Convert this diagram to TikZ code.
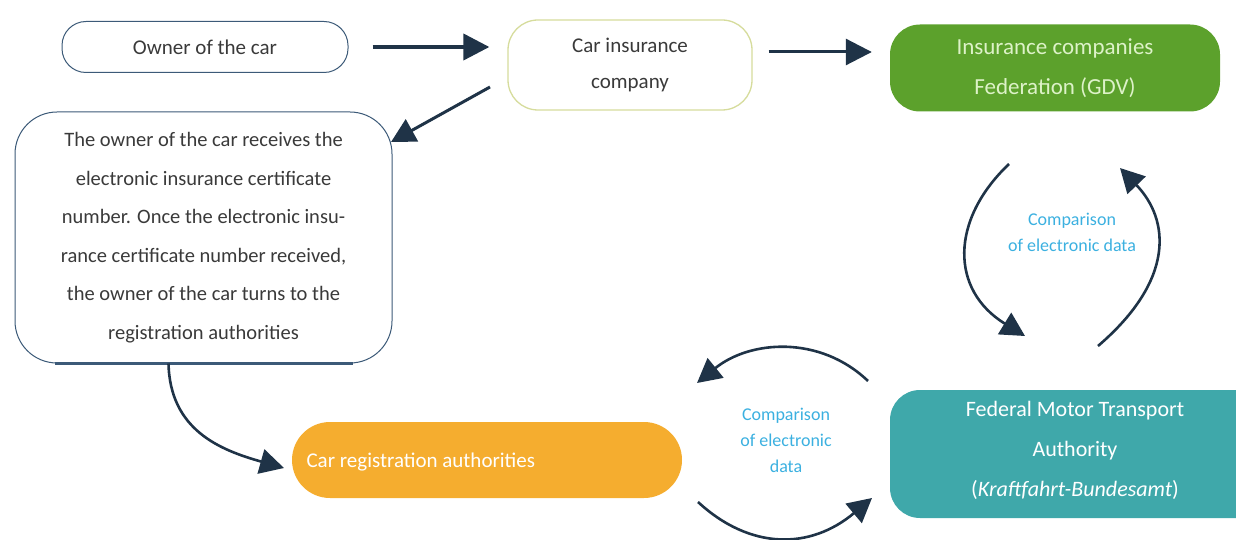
\documentclass[tikz,border=0pt]{standalone}
\usepackage{fontspec}
\setmainfont{Carlito}
\usetikzlibrary{arrows.meta,calc}
\definecolor{arrc}{HTML}{1F3347}
\definecolor{boxline}{HTML}{3C5A78}
\definecolor{insline}{HTML}{D6DC9C}
\definecolor{gdvfill}{HTML}{5CA12C}
\definecolor{gdvtext}{HTML}{DDF2C8}
\definecolor{regfill}{HTML}{F5AD2F}
\definecolor{kbafill}{HTML}{3FA8AA}
\definecolor{cmptext}{HTML}{3BB0E0}
\definecolor{txt}{HTML}{3A3A3A}
\tikzset{
  arr/.style={draw=arrc, line width=4pt, -{Triangle[length=26pt,width=26pt]}},
  carr/.style={draw=arrc, line width=2.6pt, -{Triangle[length=24pt,width=25pt]}},
  plainbox/.style={draw=boxline, line width=1pt, rounded corners=24pt, fill=white, text=txt},
  fillbox/.style={rounded corners=30pt, text=white},
  cmp/.style={text=cmptext, align=center, font=\fontsize{18}{26}\selectfont},
}
\begin{document}
\begin{tikzpicture}[x=1pt,y=-1pt]
\useasboundingbox (0,0) rectangle (1236,540);
% nodes
\node[plainbox, minimum width=286pt, minimum height=51pt, font=\fontsize{21}{25}\selectfont] (owner) at (205,47) {Owner of the car};
\node[plainbox, draw=insline, line width=1.3pt, rounded corners=30pt, minimum width=244pt, minimum height=90pt, align=center, font=\fontsize{21}{36}\selectfont] (ins) at (630,65) {Car insurance\\company};
\node[fillbox, fill=gdvfill, minimum width=330pt, minimum height=87pt, align=center, text=gdvtext, font=\fontsize{23}{40}\selectfont] (gdv) at (1055,68) {Insurance companies\\Federation (GDV)};
\node[plainbox, rounded corners=42pt, minimum width=377pt, minimum height=251pt, align=center, font=\fontsize{20.5}{38.5}\selectfont] (owninfo) at (203.5,237.5) {The owner of the car receives the\\electronic insurance certificate\\number. Once the electronic insu-\\rance certificate number received,\\the owner of the car turns to the\\registration authorities};
\draw[boxline, line width=3pt] ([xshift=40pt]owninfo.south west) -- ([xshift=-40pt]owninfo.south east);
\node[fillbox, fill=regfill, rounded corners=38pt, minimum width=390pt, minimum height=76pt] (reg) at (487,460) {};
\node[anchor=west, text=white, font=\fontsize{21}{25}\selectfont] (regt) at (303,462) {Car registration authorities};
\node[fillbox, fill=kbafill, minimum width=400pt, minimum height=128pt] (kba) at (1090,454) {};
\node[text=white, align=center, font=\fontsize{22}{40}\selectfont] (kbat) at (1075,450) {Federal Motor Transport\\Authority\\(\textit{Kraftfahrt-Bundesamt})};
% comparison labels
\node[cmp] (cmp1) at (1072,232) {Comparison\\of electronic data};
\node[cmp] (cmp2) at (786,440) {Comparison\\of electronic\\data};
% straight arrows
\draw[arr, shorten <=24pt, shorten >=18pt] (owner.east) -- (owner.east -| ins.west);
\draw[arr, line width=3pt, shorten <=16pt, shorten >=18pt] (ins.east |- 0,52) -- (gdv.west |- 0,52);
\coordinate (a1) at (490,87);
\coordinate (a2) at (391,142);
\draw[carr, line width=3pt] (a1) -- (a2);
% curved arrow owninfo -> reg
\coordinate (b1) at ([xshift=-35pt]owninfo.south);
\coordinate (b2) at (284,468);
\draw[carr] (b1) .. controls (170,430) and (220,450) .. (b2);
% circular arrows GDV <-> KBA
\coordinate (c1) at (1009,164);
\coordinate (c2) at (1025,336);
\draw[carr] (c1) .. controls (950,220) and (950,290) .. (c2);
\coordinate (d1) at (1098,346);
\coordinate (d2) at (1120,168);
\draw[carr] (d1) .. controls (1175,280) and (1170,220) .. (d2);
% circular arrows reg <-> KBA
\coordinate (e1) at (868,381);
\coordinate (e2) at (697,383);
\draw[carr] (e1) .. controls (820,335) and (750,340) .. (e2);
\coordinate (f1) at (698,502);
\coordinate (f2) at (872,498);
\draw[carr] (f1) .. controls (750,550) and (810,550) .. (f2);
\end{tikzpicture}
\end{document}
